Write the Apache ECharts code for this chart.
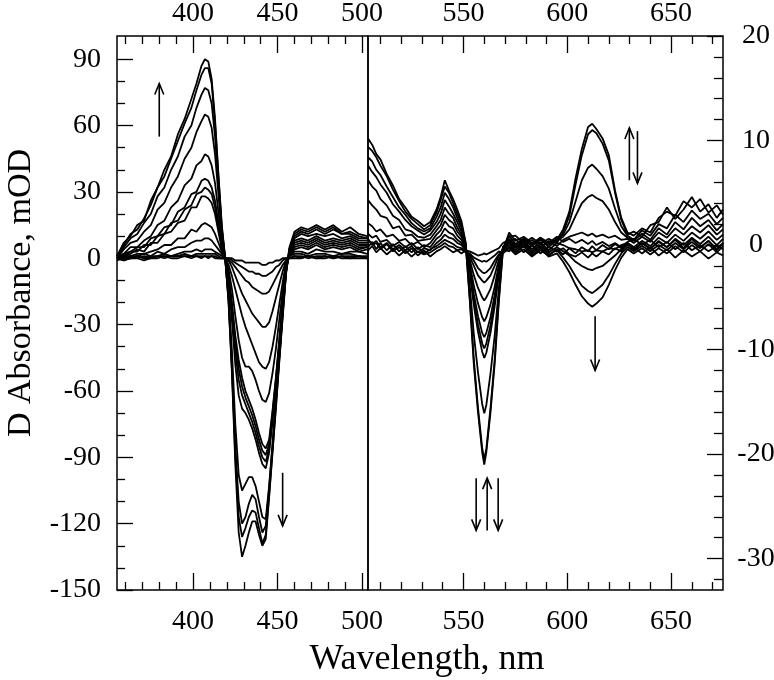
<!DOCTYPE html>
<html>
<head>
<meta charset="utf-8">
<script src="https://cdn.jsdelivr.net/npm/echarts@6/dist/echarts.min.js"></script>
<style>html,body{margin:0;padding:0;background:#fff}#c{width:774px;height:680px}</style>
</head>
<body>
<div id="c"></div>
<script>
// ---------- Left panel (Soret region), mOD ----------
const wlL = [355,359,363,367,371,375,379,383,387,391, 395,399,402,405,407,409,411,413,415,417, 419,421,423,425,427,429,431,433,435,437, 439,441,443,445,447,449,451,453,455,457, 460,464,468,473,478,483,488,493,498,503];
const L1 = [1,7,10,15,17,26,32,40,46,56, 63,72,79,87,90,89,81,63,38,15, 0,-20,-52,-93,-124,-135,-130,-124,-119,-119, -125,-130,-127,-108,-88,-68,-47,-27,-7,5, 12,14,13,15,13,15,12,14,11,10];
const L2 = [0,6,11,13,18,24,32,37,45,53, 61,68,76,83,86,86,79,61,37,14, 0,-19,-50,-89,-117,-126,-122,-117,-114,-115, -122,-129,-125,-107,-87,-67,-46,-26,-7,4, 11,13,12,14,12,14,11,12,10,9];
const L3 = [1,5,9,11,16,20,28,32,40,46, 55,60,68,74,77,76,70,55,34,13, 0,-18,-48,-85,-110,-120,-117,-111,-107,-109, -117,-124,-121,-104,-85,-65,-45,-25,-6,4, 10,12,11,13,11,13,11,11,9,9];
const L4 = [0,4,7,8,12,15,22,25,32,37, 45,50,57,62,65,64,59,47,29,11, 0,-16,-42,-75,-98,-105,-102,-99,-99,-103, -110,-117,-118,-103,-84,-64,-44,-24,-6,3, 9,11,10,11,10,11,9,10,8,8];
const L5 = [0,2,5,5,8,10,15,17,23,26, 33,36,42,44,47,46,42,34,21,8, 0,-10,-28,-48,-62,-68,-70,-73,-77,-82, -88,-93,-95,-88,-74,-58,-40,-22,-5,3, 8,9,8,10,8,9,8,9,7,7];
const L6 = [0,2,3,5,5,9,10,14,15,21, 23,29,30,35,36,35,32,26,16,6, 0,-9,-25,-42,-55,-62,-66,-70,-74,-79, -85,-90,-92,-86,-72,-56,-39,-21,-5,2, 7,8,7,9,7,8,7,8,6,6];
const L7 = [0,1,3,3,6,6,10,11,16,17, 22,24,29,30,32,31,29,23,14,5, 0,-8,-22,-38,-50,-58,-63,-67,-71,-76, -82,-87,-89,-84,-70,-55,-38,-20,-5,2, 6,7,6,8,6,7,6,7,5,5];
const L8 = [0,1,2,4,3,7,7,11,12,16, 17,23,23,28,28,27,25,20,12,4, 0,-7,-20,-35,-46,-54,-60,-64,-68,-73, -79,-84,-86,-82,-69,-54,-37,-19,-4,2, 5,6,5,7,5,6,5,6,4,5];
const L9 = [0,1,1,2,2,3,4,6,6,9, 9,13,12,15,16,15,14,11,7,3, 0,-5,-14,-26,-37,-45,-49,-49,-51,-55, -60,-64,-65,-61,-52,-41,-28,-15,-3,1, 4,5,4,6,4,5,4,5,3,4];
const L10 = [0,0,1,1,2,1,3,2,4,5, 5,7,8,8,9,9,8,6,4,2, 0,-3,-8,-14,-20,-26,-31,-35,-39,-43, -47,-49,-50,-47,-40,-31,-21,-11,-2,1, 3,3,2,4,3,3,2,3,3,2];
const L11 = [0,-1,0,1,0,1,1,2,1,2, 3,3,4,3,4,4,4,3,2,1, 0,-1,-4,-8,-12,-16,-19,-22,-25,-27, -29,-31,-31,-29,-24,-18,-12,-6,-1,1, 2,2,1,2,2,1,2,2,1,1];
const L12 = [0,0,1,0,1,0,1,1,1,1, 2,1,2,2,2,2,2,2,1,0, 0,-1,-2,-4,-6,-8,-10,-11,-13,-14, -15,-16,-16,-15,-12,-9,-6,-3,-1,0, 1,1,0,1,1,0,1,1,1,0];
const L13 = [-1,0,0,1,0,0,1,0,1,1, 1,1,1,1,1,1,1,1,0,0, 0,0,-1,-2,-3,-4,-5,-6,-6,-7, -7,-8,-8,-7,-6,-4,-3,-1,0,0, 1,0,1,0,1,0,1,0,1,0];
const L14 = [0,-1,0,0,-1,0,0,1,0,0, 1,0,1,0,1,0,1,0,0,0, 0,0,0,-1,-1,-1,-2,-2,-2,-2, -2,-3,-3,-2,-2,-1,-1,0,0,0, 0,0,1,0,0,1,0,0,0,0];

// ---------- Right panel (visible region), mOD ----------
const wlR = [504,506,508,510,513,516,519,522,525,528,531, 534,537,539,541,543,545,547,549,551, 553,555,557,559,560,561,563,565,567,569, 572,575,579,583,587,591,595,598,601,604, 607,610,612,614,617,620,623,626,629,632, 636,640,644,648,652,656,660,664,668,672,675];
const R1 = [10.2,9.6,8.7,8.2,6.8,5.7,4.4,3.6,2.7,2.3,1.8, 2.2,3.4,4.6,6.2,5.2,4.4,3.4,2.3,0.3, -5.2,-11.5,-16,-19.8,-21,-19.8,-16,-11.4,-5.5,-0.5, 1.2,0.4,0.8,0.2,0.6,-0.2,0.5,1.5,3.2,6.4, 9.2,11.3,11.6,11.1,10.2,8.6,5.2,2.6,1.2,0.9, 1.6,1.2,2.6,3.2,2.8,4.2,3.6,4.4,3.1,3.8,2.9];
const R2 = [9.4,9.0,8.4,7.6,6.6,5.3,4.2,3.2,2.5,2.0,1.5, 1.9,3.1,4.3,5.6,5.0,4.0,3.0,2.0,0.2, -5.0,-11.0,-15.6,-19.4,-20.5,-19.5,-15.6,-11.0,-5.2,-0.4, 0.8,0.9,0.2,0.7,0.1,0.6,0.2,1.2,2.8,5.8, 8.6,10.6,11.0,10.7,9.7,8.1,5.0,2.4,1.0,1.3, 0.8,1.9,2.2,3.6,2.5,3.4,4.6,3.2,3.9,2.6,3.4];
const R3 = [8.4,8.0,7.2,6.7,5.6,4.6,3.6,2.9,2.1,1.6,1.3, 1.6,2.7,3.6,5.0,4.4,3.6,2.6,1.7,0.1, -3.8,-8.6,-12.2,-15.2,-16.1,-15.3,-12.3,-8.7,-4.2,-0.3, 0.9,0.1,0.6,-0.1,0.5,0.0,0.6,1.0,2.2,4.2, 6.2,7.4,7.7,7.3,6.6,5.4,3.5,1.8,0.9,0.5, 1.4,0.9,2.0,1.6,2.9,2.2,3.3,2.5,3.0,2.0,2.6];
const R4 = [7.6,7.0,6.5,5.8,5.0,3.9,3.2,2.4,1.8,1.4,1.0, 1.4,2.2,3.0,4.3,3.7,3.0,2.2,1.3,0.0, -2.6,-5.8,-8.3,-10.2,-10.8,-10.3,-8.4,-5.9,-2.9,-0.2, 0.6,-0.2,0.5,0.0,0.7,0.2,0.4,0.8,1.5,2.8, 4.0,4.6,4.8,4.5,4.2,3.4,2.2,1.2,0.7,0.4, 1.1,0.5,1.6,1.0,2.2,1.5,2.6,1.8,2.4,1.4,2.0];
const R5 = [6.2,5.6,5.2,4.4,3.8,2.8,2.4,1.5,1.3,0.8,0.7, 1.0,1.8,2.4,3.6,3.0,2.6,1.7,1.0,-0.1, -2.4,-5.3,-7.6,-9.4,-9.9,-9.4,-7.7,-5.4,-2.6,-0.2, 0.4,0.6,-0.2,0.5,-0.3,0.4,-0.1,0.5,0.8,1.0, 1.2,0.9,1.1,0.8,1.0,0.7,0.9,0.5,0.6,0.2, 0.8,0.3,1.2,0.7,1.6,1.0,1.8,1.2,1.9,1.0,1.5];
const R6 = [4.3,3.8,3.4,2.8,2.6,1.6,1.8,0.9,1.0,0.4,0.5, 0.6,1.4,1.9,2.9,2.4,2.1,1.3,0.8,-0.2, -2.1,-4.7,-6.8,-8.4,-8.8,-8.4,-6.9,-4.8,-2.3,-0.3, 0.3,-0.3,0.4,-0.4,0.3,-0.5,0.2,0.0,-0.3,-0.4, -0.6,-0.5,-0.7,-0.5,-0.6,-0.3,-0.4,0.0,0.2,-0.2, 0.4,-0.1,0.7,0.2,1.0,0.4,1.2,0.6,1.3,0.5,1.0];
const R7 = [2.1,1.8,1.3,1.5,0.8,1.0,0.4,0.6,0.0,0.3,-0.2, 0.2,1.0,1.4,2.3,1.8,1.6,0.9,0.5,-0.3, -1.8,-3.9,-5.6,-6.9,-7.3,-6.9,-5.7,-4.0,-1.9,-0.4, 0.2,-0.5,0.3,-0.6,0.1,-0.7,-0.2,-0.6,-1.0,-1.6, -2.0,-2.3,-2.4,-2.2,-2.0,-1.5,-1.0,-0.4,0.0,-0.4, 0.2,-0.3,0.3,-0.2,0.6,0.0,0.7,0.1,0.8,0.0,0.6];
const R8 = [1.1,0.7,0.9,0.3,0.5,-0.1,0.3,-0.2,0.2,-0.4,0.0, -0.2,0.6,0.9,1.6,1.2,1.0,0.5,0.2,-0.4, -1.4,-2.9,-4.1,-5.0,-5.3,-5.0,-4.2,-2.9,-1.4,-0.5, 0.0,-0.7,0.1,-0.8,-0.1,-0.9,-0.5,-1.2,-2.0,-3.0, -3.9,-4.4,-4.6,-4.3,-3.8,-2.9,-1.8,-0.8,-0.2,-0.6, -0.1,-0.6,0.0,-0.5,0.2,-0.4,0.3,-0.3,0.4,-0.4,0.2];
const R9 = [0.5,0.1,0.4,-0.2,0.2,-0.4,0.0,-0.5,-0.1,-0.7,-0.3, -0.5,0.2,0.5,1.0,0.7,0.6,0.2,0.0,-0.5, -1.1,-2.0,-2.9,-3.4,-3.6,-3.4,-2.9,-2.0,-1.0,-0.6, -0.2,-0.8,-0.1,-1.0,-0.3,-1.1,-0.8,-1.6,-2.6,-3.8, -4.9,-5.6,-5.9,-5.6,-5.0,-3.8,-2.4,-1.2,-0.4,-0.8, -0.3,-0.9,-0.3,-0.8,-0.1,-0.7,0.0,-0.6,0.1,-0.7,-0.1];
const R10 = [-0.2,0.3,-0.4,0.2,-0.5,0.1,-0.6,-0.1,-0.7,-0.2,-0.8, -0.4,-0.1,0.2,0.5,0.3,0.1,-0.2,-0.3,-0.6, -0.9,-1.5,-2.2,-2.6,-2.7,-2.6,-2.2,-1.5,-0.9,-0.4, -0.6,0.1,-0.7,0.0,-0.8,-0.2,-0.6,-0.3,-0.9,-1.1, -0.7,-1.2,-0.8,-1.1,-0.6,-0.9,-0.3,-0.6,0.1,-0.5, 0.2,-0.4,0.4,-0.2,0.5,-0.3,0.6,-0.2,0.4,-0.5,0.2];
const R11 = [-0.5,-0.1,-0.7,-0.3,-0.9,-0.4,-1.0,-0.5,-1.1,-0.6,-0.9, -0.7,-0.3,-0.1,0.2,-0.1,-0.2,-0.5,-0.4,-0.7, -0.8,-1.2,-1.4,-1.6,-1.5,-1.6,-1.3,-1.0,-0.6,-0.8, -0.3,-0.9,-0.4,-1.1,-0.5,-1.0,-0.4,-0.9,-0.3,-0.8, -0.2,-0.6,-0.1,-0.5,0.0,-0.4,0.1,-0.3,0.2,-0.2, -0.8,-0.2,-1.0,-0.4,-1.2,-0.5,-1.1,-0.6,-1.3,-0.7,-1.0];
const R12 = [0.6,0.0,0.2,-0.4,0.1,-0.6,-0.2,-0.8,-0.3,-1.0,-0.5, -1.1,-0.6,-0.4,-0.1,-0.4,-0.7,-0.5,-0.8,-0.5, -0.6,-0.8,-1.0,-0.9,-0.8,-0.9,-0.7,-0.5,-0.3,0.2, 0.5,0.0,0.6,0.1,0.7,0.2,0.8,0.3,0.6,0.2, 0.5,0.1,0.4,0.0,0.3,-0.1,0.2,-0.2,0.3,0.6, 0.0,0.5,-0.2,0.3,-0.4,0.2,-0.5,0.0,-0.6,-0.1,-0.4];

// ---------- Axis tick values / labels ----------
const leftXMajor = [400,450,500];
const leftXMinor = [360,370,380,390,410,420,430,440,460,470,480,490];
const rightXMajor = [550,600,650];
const rightXMinor = [510,520,530,540,560,570,580,590,610,620,630,640,660,670];
const leftYMajor = [-150,-120,-90,-60,-30,0,30,60,90];
const leftYMinor = [-140,-130,-110,-100,-80,-70,-50,-40,-20,-10,10,20,40,50,70,80];
const rightYMajor = [-30,-20,-10,0,10,20];
const rightYMinor = [-32,-28,-26,-24,-22,-18,-16,-14,-12,-8,-6,-4,-2,2,4,6,8,12,14,16,18];

// ---------- Annotation arrows [x0,y0,x1,y1] in data units ----------
const arrowsLeft = [[380,55,380,79],[453,-97,453,-121]];
const arrowsRight = [[629.9,6.2,629.9,11.2],[633.8,10.9,633.8,5.9],[613.4,-6.8,613.4,-12.0],[556.1,-22.3,556.1,-27.3],[561.4,-27.3,561.4,-22.3],[566.7,-22.3,566.7,-27.3]];

const xTitle = 'Wavelength, nm';
const yTitle = 'D Absorbance, mOD';

const FONT = "'Liberation Serif','Times New Roman',serif";
const chart = echarts.init(document.getElementById('c'), null, {renderer:'canvas'});

function xAxes(grid, min, max, majors, minors) {
  const base = {type:'value', gridIndex:grid, min:min, max:max, axisLine:{show:false, onZero:false}, splitLine:{show:false}};
  const tl = {color:'#000', width:1.3};
  const lab = {color:'#000', fontSize:28, fontFamily:FONT};
  return [
    Object.assign({}, base, {position:'bottom', axisTick:{show:true, inside:true, length:17, customValues:majors, lineStyle:tl}, axisLabel:Object.assign({show:true, customValues:majors, margin:18}, lab)}),
    Object.assign({}, base, {position:'bottom', axisTick:{show:true, inside:true, length:8, customValues:minors, lineStyle:tl}, axisLabel:{show:false}}),
    Object.assign({}, base, {position:'top', axisTick:{show:true, inside:true, length:17, customValues:majors, lineStyle:tl}, axisLabel:Object.assign({show:true, customValues:majors, margin:8}, lab)}),
    Object.assign({}, base, {position:'top', axisTick:{show:true, inside:true, length:8, customValues:minors, lineStyle:tl}, axisLabel:{show:false}})
  ];
}
function yAxes(grid, pos, min, max, majors, minors, margin, minorLen, align) {
  const base = {type:'value', gridIndex:grid, position:pos, min:min, max:max, axisLine:{show:false, onZero:false}, splitLine:{show:false}};
  const tl = {color:'#000', width:1.3};
  const lab = {show:true, customValues:majors, margin:margin, color:'#000', fontSize:28, fontFamily:FONT};
  if (align) lab.align = align;
  return [
    Object.assign({}, base, {axisTick:{show:true, inside:true, length:16, customValues:majors, lineStyle:tl}, axisLabel:lab}),
    Object.assign({}, base, {axisTick:{show:true, inside:true, length:minorLen, customValues:minors, lineStyle:tl}, axisLabel:{show:false}})
  ];
}

const leftCurves = [L1,L2,L3,L4,L5,L6,L7,L8,L9,L10,L11,L12,L13,L14];
const rightCurves = [R1,R2,R3,R4,R5,R6,R7,R8,R9,R10,R11,R12];
const series = [];
leftCurves.forEach(function(c){
  series.push({type:'line', xAxisIndex:0, yAxisIndex:0, data: wlL.map(function(w,i){return [w,c[i]];}), showSymbol:false, symbol:'none', lineStyle:{color:'#000', width:1.8}, silent:true, animation:false, clip:true});
});
rightCurves.forEach(function(c){
  series.push({type:'line', xAxisIndex:4, yAxisIndex:2, data: wlR.map(function(w,i){return [w,c[i]];}), showSymbol:false, symbol:'none', lineStyle:{color:'#000', width:1.8}, silent:true, animation:false, clip:true});
});

const option = {
  animation:false,
  backgroundColor:'#fff',
  grid:[
    {left:117, top:36, width:251, height:554, show:true, borderColor:'#000', borderWidth:1.5, backgroundColor:'transparent', containLabel:false, outerBoundsMode:'none'},
    {left:368, top:36, width:355, height:554, show:true, borderColor:'#000', borderWidth:1.5, backgroundColor:'transparent', containLabel:false, outerBoundsMode:'none'}
  ],
  xAxis: xAxes(0, 355, 503.5, leftXMajor, leftXMinor).concat(xAxes(1, 504, 675, rightXMajor, rightXMinor)),
  yAxis: yAxes(0, 'left', -150, 100.5, leftYMajor, leftYMinor, 16, 8, null).concat(yAxes(1, 'right', -33, 20, rightYMajor, rightYMinor, 33, 9, 'center')),
  series: series
};
chart.setOption(option);

// annotations
const g = [];
function addArrow(a, seriesIndex) {
  const p0 = chart.convertToPixel({seriesIndex:seriesIndex}, [a[0], a[1]]);
  const p1 = chart.convertToPixel({seriesIndex:seriesIndex}, [a[2], a[3]]);
  const dx = p1[0]-p0[0], dy = p1[1]-p0[1];
  const len = Math.sqrt(dx*dx+dy*dy);
  const ux = dx/len, uy = dy/len, nx = -uy, ny = ux;
  const hl = 11, hw = 4.5;
  g.push({type:'line', shape:{x1:p0[0], y1:p0[1], x2:p1[0], y2:p1[1]}, style:{stroke:'#000', lineWidth:1.6}, silent:true});
  g.push({type:'polyline', shape:{points:[[p1[0]-ux*hl+nx*hw, p1[1]-uy*hl+ny*hw],[p1[0],p1[1]],[p1[0]-ux*hl-nx*hw, p1[1]-uy*hl-ny*hw]]}, style:{stroke:'#000', lineWidth:1.6, fill:null}, silent:true});
}
arrowsLeft.forEach(function(a){ addArrow(a, 0); });
arrowsRight.forEach(function(a){ addArrow(a, leftCurves.length); });
g.push({type:'text', x:427, y:660, style:{text:xTitle, font:'36px ' + FONT, fill:'#000', textAlign:'center', textVerticalAlign:'middle'}, silent:true});
g.push({type:'text', x:21, y:293, rotation:Math.PI/2, style:{text:yTitle, font:'34px ' + FONT, fill:'#000', textAlign:'center', textVerticalAlign:'middle'}, silent:true});
chart.setOption({graphic:g});
</script>
</body>
</html>
